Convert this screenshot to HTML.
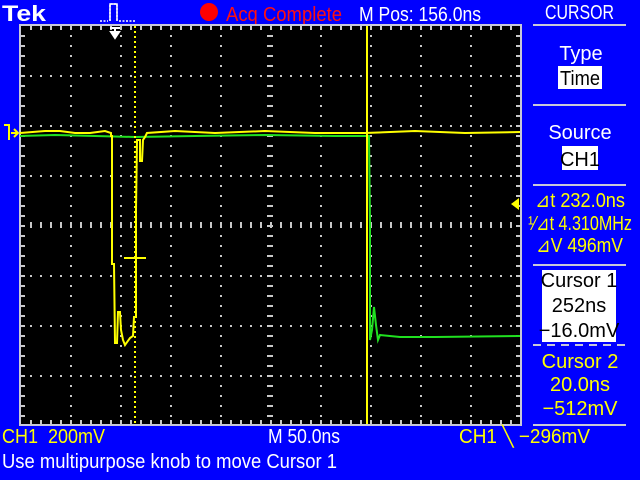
<!DOCTYPE html>
<html><head><meta charset="utf-8"><style>
html,body{margin:0;padding:0;background:#0000ff;width:640px;height:480px;overflow:hidden}
svg{display:block}
text{font-family:"Liberation Sans",sans-serif;font-size:20px}
</style></head><body>
<svg id="scope" width="640" height="480" viewBox="0 0 640 480" xmlns="http://www.w3.org/2000/svg">
<rect x="0" y="0" width="640" height="480" fill="#0000ff"/>
<text x="2" y="21" fill="#fff" style="font-weight:bold;font-size:22px" textLength="44" lengthAdjust="spacingAndGlyphs">Tek</text>
<path d="M100 21 H108 M110 21 V4 H117 V21 M119 21 H136" stroke="#fff" stroke-width="1.5" fill="none" stroke-dasharray="2,1.5"/>
<path d="M110 21 V4 H117 V21" stroke="#fff" stroke-width="1.5" fill="none"/>
<circle cx="209" cy="12" r="9" fill="#ff0000"/>
<text x="226" y="21" fill="#ff1010" textLength="116" lengthAdjust="spacingAndGlyphs">Acq Complete</text>
<text x="359" y="21" fill="#fff" textLength="122" lengthAdjust="spacingAndGlyphs">M Pos: 156.0ns</text>
<text x="545" y="19" fill="#fff" textLength="69" lengthAdjust="spacingAndGlyphs">CURSOR</text>
<line x1="533" y1="25" x2="626" y2="25" stroke="#c8c8d8" stroke-width="2"/>
<text x="581" y="60" fill="#fff" text-anchor="middle">Type</text>
<rect x="558" y="66" width="44" height="23" fill="#fff"/>
<text x="580" y="85" fill="#000" text-anchor="middle" textLength="40" lengthAdjust="spacingAndGlyphs">Time</text>
<line x1="533" y1="105" x2="626" y2="105" stroke="#c8c8d8" stroke-width="2"/>
<text x="580" y="139" fill="#fff" text-anchor="middle">Source</text>
<rect x="562" y="146" width="36" height="24" fill="#fff"/>
<text x="580" y="166" fill="#000" text-anchor="middle">CH1</text>
<line x1="533" y1="185" x2="626" y2="185" stroke="#c8c8d8" stroke-width="2"/>
<text x="535" y="207" fill="#ffff00" textLength="90" lengthAdjust="spacingAndGlyphs">⊿t 232.0ns</text>
<text x="528" y="230" fill="#ffff00" textLength="104" lengthAdjust="spacingAndGlyphs">¹⁄⊿t 4.310MHz</text>
<text x="536" y="252" fill="#ffff00" textLength="87" lengthAdjust="spacingAndGlyphs">⊿V 496mV</text>
<line x1="533" y1="265" x2="626" y2="265" stroke="#c8c8d8" stroke-width="2"/>
<rect x="542" y="270" width="74" height="72" fill="#fff"/>
<text x="579" y="287" fill="#000" text-anchor="middle">Cursor 1</text>
<text x="579" y="312" fill="#000" text-anchor="middle">252ns</text>
<text x="579" y="337" fill="#000" text-anchor="middle">−16.0mV</text>
<line x1="533" y1="345" x2="626" y2="345" stroke="#c8c8d8" stroke-width="2" stroke-dasharray="8,6"/>
<text x="580" y="368" fill="#ffff00" text-anchor="middle">Cursor 2</text>
<text x="580" y="391" fill="#ffff00" text-anchor="middle">20.0ns</text>
<text x="580" y="415" fill="#ffff00" text-anchor="middle">−512mV</text>
<line x1="533" y1="425" x2="626" y2="425" stroke="#c8c8d8" stroke-width="2"/>
<rect x="20" y="25" width="501" height="400" fill="#000" stroke="#c8c8d8" stroke-width="2"/>
<g id="grid"></g>
<g id="traces"></g>
<path d="M4 125 H9 V140 M11 133 H18 M14 129 L18 133 L14 137" stroke="#ffff00" stroke-width="2" fill="none"/>
<path d="M511 204 L519 198 V210 Z" fill="#ffff00"/>
<path d="M110 28 H120 M115 28 V36 M111 32 L115 38 L119 32 Z" stroke="#fff" stroke-width="2" fill="#fff"/>
<text x="2" y="443" fill="#ffff00" textLength="103" lengthAdjust="spacingAndGlyphs" xml:space="preserve">CH1  200mV</text>
<text x="268" y="443" fill="#fff" textLength="72" lengthAdjust="spacingAndGlyphs">M 50.0ns</text>
<text x="459" y="443" fill="#ffff00" textLength="131" lengthAdjust="spacingAndGlyphs">CH1 ╲ −296mV</text>
<text x="2" y="468" fill="#fff" textLength="335" lengthAdjust="spacingAndGlyphs">Use multipurpose knob to move Cursor 1</text>
</svg>
<script>
// data: time in ns relative to trigger, voltage in mV
const ch1Times = [-95,-70,-55,-40,-25,-10,-4,-4,-3,-3,-1,0,2,3,5,6,8,10,15,18,19,21,21,22,25,25,27,28,30,32,60,100,150,200,250,300,350,405];
const ch1Volts = [-12,-4,-4,-12,-12,-4,-12,-24,-24,-536,-536,-852,-852,-728,-728,-800,-840,-860,-832,-824,-748,-748,-316,-40,-40,-124,-124,-40,-28,-12,-4,-12,-4,-12,-12,-4,-12,-8];
const ch2Times = [-95,-60,-20,20,80,150,220,254,255,255,257,259,261,263,265,285,320,405];
const ch2Volts = [-24,-20,-24,-28,-24,-20,-24,-24,-376,-840,-800,-708,-780,-840,-820,-828,-828,-824];
const cursor1Time = 252, cursor2Time = 20, cursor2Volt = -512;
const tLeft = -95, nsPerPx = 1, zeroY = 130, mvPerPx = 4;
function xs(t){return 20 + (t - tLeft)/nsPerPx;}
function ys(v){return zeroY - v/mvPerPx;}
const NS="http://www.w3.org/2000/svg";
const grid=document.getElementById('grid'), tr=document.getElementById('traces');
function r(g,x,y,w,h){const e=document.createElementNS(NS,'rect');e.setAttribute('x',x);e.setAttribute('y',y);e.setAttribute('width',w);e.setAttribute('height',h);e.setAttribute('fill','#c8c8c8');g.appendChild(e);}
for(let i=1;i<10;i++){const gx=20+50*i;for(let y=35;y<425;y+=10){if(i===5)r(grid,gx-3,y,6,2);else r(grid,gx,y,2,2);}}
for(let j=1;j<8;j++){const gy=25+50*j;for(let x=30;x<520;x+=10){if(j===4)r(grid,x,gy-3,2,6);else r(grid,x,gy,2,2);}}
for(let x=30;x<520;x+=10){r(grid,x,26,2,4);r(grid,x,420,2,4);}
for(let y=35;y<425;y+=10){r(grid,21,y,4,2);r(grid,516,y,4,2);}
function poly(ts,vs,color,name){const p=document.createElementNS(NS,'polyline');


let pts=[];for(let i=0;i<ts.length;i++)pts.push(xs(ts[i])+','+ys(vs[i]));
p.setAttribute('points',pts.join(' '));p.setAttribute('fill','none');p.setAttribute('stroke',color);p.setAttribute('stroke-width','2');tr.appendChild(p);}
poly(ch2Times,ch2Volts,'#20e020','ch2-trace');
poly(ch1Times,ch1Volts,'#ffff00','ch1-trace');
const c1=document.createElementNS(NS,'line');


c1.setAttribute('x1',xs(cursor1Time));c1.setAttribute('x2',xs(cursor1Time));c1.setAttribute('y1',26);c1.setAttribute('y2',424);c1.setAttribute('stroke','#ffff00');c1.setAttribute('stroke-width','2');tr.appendChild(c1);
const c2=document.createElementNS(NS,'line');


c2.setAttribute('x1',xs(cursor2Time));c2.setAttribute('x2',xs(cursor2Time));c2.setAttribute('y1',26);c2.setAttribute('y2',424);c2.setAttribute('stroke','#ffff00');c2.setAttribute('stroke-width','2');c2.setAttribute('stroke-dasharray','2,3');tr.appendChild(c2);
const c2h=document.createElementNS(NS,'line');


c2h.setAttribute('x1',xs(cursor2Time)-11);c2h.setAttribute('x2',xs(cursor2Time)+11);c2h.setAttribute('y1',ys(cursor2Volt));c2h.setAttribute('y2',ys(cursor2Volt));c2h.setAttribute('stroke','#ffff00');c2h.setAttribute('stroke-width','2');tr.appendChild(c2h);
</script>
</body></html>
